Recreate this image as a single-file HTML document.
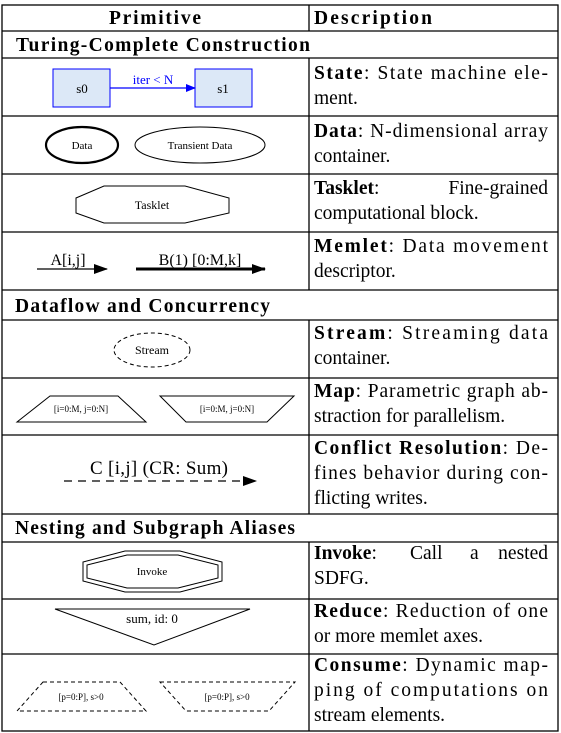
<!DOCTYPE html>
<html><head><meta charset="utf-8"><style>
html,body{margin:0;padding:0;background:#fff;}
svg{display:block;}
.d{font-family:"Liberation Serif",serif;font-size:19.5px;fill:#000;}
.b{font-weight:bold;}
.s{font-family:"Liberation Serif",serif;fill:#000;}
</style></head><body>
<svg width="561" height="733" viewBox="0 0 561 733" xmlns="http://www.w3.org/2000/svg">
<defs>
<marker id="ab" markerWidth="10" markerHeight="8" refX="9" refY="4" orient="auto" markerUnits="userSpaceOnUse"><path d="M0,0 L10,4 L0,8z" fill="#0000ff"/></marker>
<marker id="ak" markerWidth="14" markerHeight="10" refX="13" refY="5" orient="auto" markerUnits="userSpaceOnUse"><path d="M0,0 L14,5 L0,10z" fill="#000"/></marker>
</defs>
<g stroke="#000" stroke-width="1.3" fill="none">
<rect x="2" y="5" width="556" height="726"/>
<line x1="2" y1="31" x2="558" y2="31"/>
<line x1="2" y1="58" x2="558" y2="58"/>
<line x1="2" y1="116" x2="558" y2="116"/>
<line x1="2" y1="174" x2="558" y2="174"/>
<line x1="2" y1="232" x2="558" y2="232"/>
<line x1="2" y1="290" x2="558" y2="290"/>
<line x1="2" y1="320" x2="558" y2="320"/>
<line x1="2" y1="378" x2="558" y2="378"/>
<line x1="2" y1="435" x2="558" y2="435"/>
<line x1="2" y1="514" x2="558" y2="514"/>
<line x1="2" y1="542" x2="558" y2="542"/>
<line x1="2" y1="599" x2="558" y2="599"/>
<line x1="2" y1="654" x2="558" y2="654"/>
<line x1="309" y1="5" x2="309" y2="31"/>
<line x1="309" y1="58" x2="309" y2="290"/>
<line x1="309" y1="320" x2="309" y2="514"/>
<line x1="309" y1="542" x2="309" y2="731"/>
</g>
<text class="d b" x="155" y="24" text-anchor="middle" textLength="92" lengthAdjust="spacing">Primitive</text>
<text class="d b" x="314" y="24" textLength="118" lengthAdjust="spacing">Description</text>
<text class="d b" x="16" y="51" textLength="294" lengthAdjust="spacing">Turing-Complete Construction</text>
<text class="d b" x="15" y="312" textLength="255" lengthAdjust="spacing">Dataflow and Concurrency</text>
<text class="d b" x="15" y="534" textLength="280" lengthAdjust="spacing">Nesting and Subgraph Aliases</text>

<!-- State -->
<rect x="53" y="69" width="57" height="38" fill="#dce8f7" stroke="#0000ff" stroke-width="1"/>
<rect x="195" y="69" width="57" height="38" fill="#dce8f7" stroke="#0000ff" stroke-width="1"/>
<text class="s" x="82" y="93" font-size="13" text-anchor="middle">s0</text>
<text class="s" x="223" y="93" font-size="13" text-anchor="middle">s1</text>
<line x1="110" y1="88" x2="195" y2="88" stroke="#0000ff" stroke-width="1.2" marker-end="url(#ab)"/>
<text class="s" x="153" y="84" font-size="13" text-anchor="middle" style="fill:#0000ff">iter &lt; N</text>
<!-- Data -->
<ellipse cx="82" cy="145" rx="36" ry="18" fill="none" stroke="#000" stroke-width="2.2"/>
<ellipse cx="200" cy="145" rx="65" ry="18" fill="none" stroke="#000" stroke-width="1"/>
<text class="s" x="82" y="149" font-size="11" text-anchor="middle">Data</text>
<text class="s" x="200" y="149" font-size="11" text-anchor="middle">Transient Data</text>
<!-- Tasklet -->
<polygon points="104,186 185,186 229,198 229,213 185,223 104,223 76,213 76,198" fill="none" stroke="#000" stroke-width="1"/>
<text class="s" x="152" y="209" font-size="12" text-anchor="middle">Tasklet</text>
<!-- Memlet -->
<line x1="37" y1="269" x2="107" y2="269" stroke="#000" stroke-width="1.2" marker-end="url(#ak)"/>
<text class="s" x="68" y="265" font-size="16" text-anchor="middle">A[i,j]</text>
<line x1="136" y1="269" x2="265" y2="269" stroke="#000" stroke-width="3" marker-end="url(#ak)"/>
<text class="s" x="200" y="265" font-size="16" text-anchor="middle">B(1) [0:M,k]</text>
<!-- Stream -->
<ellipse cx="152" cy="350" rx="38" ry="17" fill="none" stroke="#000" stroke-width="1" stroke-dasharray="4,3"/>
<text class="s" x="152" y="354" font-size="12" text-anchor="middle">Stream</text>
<!-- Map -->
<polygon points="50,396 118,396 146,422 17,422" fill="none" stroke="#000" stroke-width="1"/>
<polygon points="160,396 294,396 267,422 186,422" fill="none" stroke="#000" stroke-width="1"/>
<text class="s" x="81" y="412" font-size="9" text-anchor="middle">[i=0:M, j=0:N]</text>
<text class="s" x="227" y="412" font-size="9" text-anchor="middle">[i=0:M, j=0:N]</text>
<!-- Conflict -->
<line x1="64" y1="481" x2="256" y2="481" stroke="#000" stroke-width="1.3" stroke-dasharray="8,6" marker-end="url(#ak)"/>
<text class="s" x="159" y="474" font-size="19" text-anchor="middle" textLength="138" lengthAdjust="spacing">C [i,j] (CR: Sum)</text>
<!-- Invoke -->
<polygon points="125,551 180,551 222,562 222,581 180,592 125,592 83,581 83,562" fill="none" stroke="#000" stroke-width="1"/>
<polygon points="127,555 178,555 218,565 218,578 178,588 127,588 87,578 87,565" fill="none" stroke="#000" stroke-width="1"/>
<text class="s" x="152" y="575" font-size="11" text-anchor="middle">Invoke</text>
<!-- Reduce -->
<polygon points="55,609 250,609 154,645" fill="none" stroke="#000" stroke-width="1"/>
<text class="s" x="152" y="623" font-size="13" text-anchor="middle">sum, id: 0</text>
<!-- Consume -->
<polygon points="43,682 120,682 146,711 17,711" fill="none" stroke="#000" stroke-width="1" stroke-dasharray="4,3"/>
<polygon points="160,682 295,682 269,711 186,711" fill="none" stroke="#000" stroke-width="1" stroke-dasharray="4,3"/>
<text class="s" x="81" y="700" font-size="9" text-anchor="middle">[p=0:P], s&gt;0</text>
<text class="s" x="227" y="700" font-size="9" text-anchor="middle">[p=0:P], s&gt;0</text>

<!-- Descriptions -->
<text class="d" x="314" y="79" textLength="234" lengthAdjust="spacing"><tspan font-weight="bold">State</tspan>: State machine ele-</text>
<text class="d" x="314" y="104">ment.</text>
<text class="d" x="314" y="137" textLength="234" lengthAdjust="spacing"><tspan font-weight="bold">Data</tspan>: N-dimensional array</text>
<text class="d" x="314" y="162">container.</text>
<text class="d" x="314" y="194"><tspan font-weight="bold">Tasklet</tspan>:</text>
<text class="d" x="548" y="194" text-anchor="end">Fine-grained</text>
<text class="d" x="314" y="219">computational block.</text>
<text class="d" x="314" y="252" textLength="234" lengthAdjust="spacing"><tspan font-weight="bold">Memlet</tspan>: Data movement</text>
<text class="d" x="314" y="277">descriptor.</text>
<text class="d" x="314" y="339" textLength="234" lengthAdjust="spacing"><tspan font-weight="bold">Stream</tspan>: Streaming data</text>
<text class="d" x="314" y="364">container.</text>
<text class="d" x="314" y="397" textLength="234" lengthAdjust="spacing"><tspan font-weight="bold">Map</tspan>: Parametric graph ab-</text>
<text class="d" x="314" y="422">straction for parallelism.</text>
<text class="d" x="314" y="454" textLength="234" lengthAdjust="spacing"><tspan font-weight="bold">Conflict Resolution</tspan>: De-</text>
<text class="d" x="314" y="479" textLength="234" lengthAdjust="spacing">fines behavior during con-</text>
<text class="d" x="314" y="504">flicting writes.</text>
<text class="d" x="314" y="559"><tspan font-weight="bold">Invoke</tspan>:</text>
<text class="d" x="410" y="559">Call</text>
<text class="d" x="470" y="559">a</text>
<text class="d" x="548" y="559" text-anchor="end">nested</text>
<text class="d" x="314" y="584">SDFG.</text>
<text class="d" x="314" y="617" textLength="234" lengthAdjust="spacing"><tspan font-weight="bold">Reduce</tspan>: Reduction of one</text>
<text class="d" x="314" y="642">or more memlet axes.</text>
<text class="d" x="314" y="671" textLength="234" lengthAdjust="spacing"><tspan font-weight="bold">Consume</tspan>: Dynamic map-</text>
<text class="d" x="314" y="696" textLength="234" lengthAdjust="spacing">ping of computations on</text>
<text class="d" x="314" y="721">stream elements.</text>
</svg>
</body></html>
